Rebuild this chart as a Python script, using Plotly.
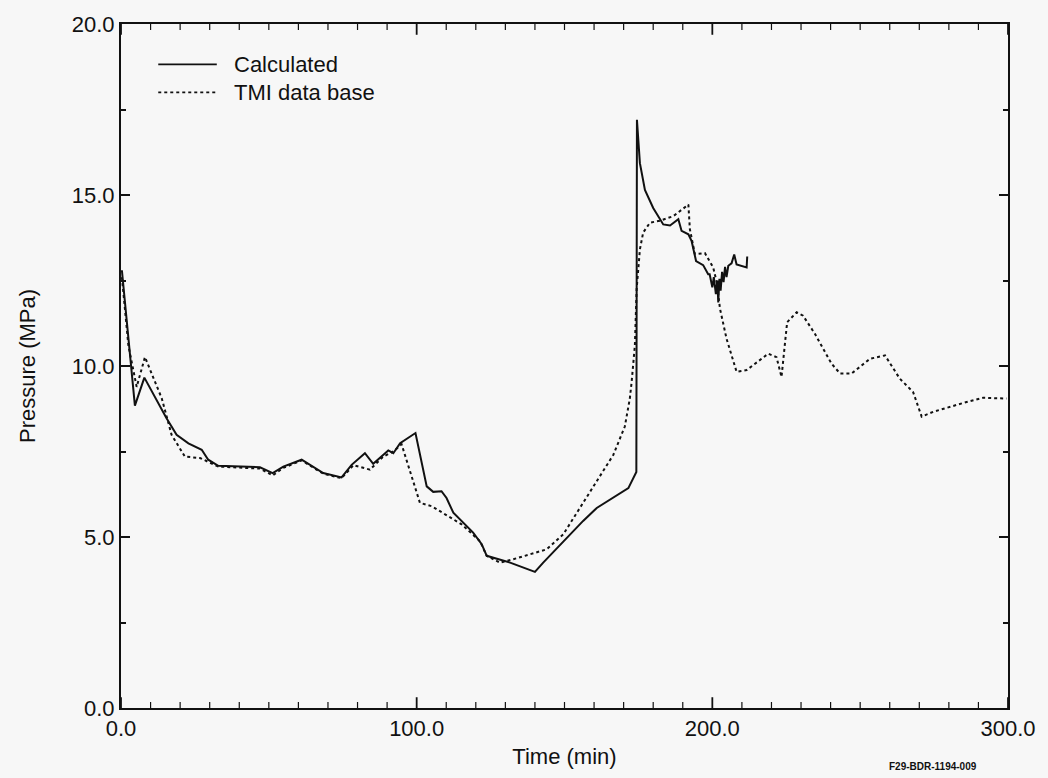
import plotly.graph_objects as go

# Calculated pressure history (min, MPa)
calc_t = [0.3, 4.7, 7.9, 15.4, 18.8, 22.8, 27.3, 29.5, 32.9, 47.0, 51.3, 54.9, 61.1,
          68.4, 74.6, 78.0, 82.5, 85.3, 90.4, 92.1, 94.4, 99.6, 103.4, 105.6, 108.4,
          110.1, 112.4, 119.1, 122.0, 123.7, 131.6, 140.0, 142.8, 153.0, 156.3, 160.9,
          168.2, 171.6, 174.3, 174.5, 175.5, 177.2, 180.0, 183.4, 185.7, 188.5, 189.6,
          191.9, 193.0, 194.5, 196.9, 198.6, 199.1, 200.0, 200.5, 201.2, 201.7, 202.0,
          202.4, 202.8, 203.3, 203.8, 204.3, 204.8, 205.4, 206.5, 207.4, 208.2, 211.6,
          211.8]
calc_p = [12.8, 8.84, 9.66, 8.47, 7.99, 7.74, 7.55, 7.26, 7.08, 7.04, 6.87, 7.06, 7.26,
          6.87, 6.74, 7.11, 7.45, 7.14, 7.53, 7.45, 7.74, 8.04, 6.48, 6.32, 6.34,
          6.14, 5.71, 5.13, 4.79, 4.45, 4.25, 3.98, 4.25, 5.17, 5.47, 5.85,
          6.24, 6.43, 6.9, 17.2, 15.93, 15.15, 14.62, 14.14, 14.11, 14.29, 13.95,
          13.85, 13.65, 13.07, 12.95, 12.68, 12.68, 12.3, 12.6, 12.1, 12.5, 11.86,
          12.55, 12.2, 12.75, 12.45, 12.9, 12.6, 12.93, 13.0, 13.26, 12.97, 12.88,
          13.2]

# TMI data base pressure history (min, MPa)
tmi_t = [0.3, 2.5, 5.3, 8.1, 13.8, 17.1, 21.6, 26.7, 32.9, 47.0, 51.3, 54.9, 61.1,
         68.4, 74.6, 78.6, 84.2, 88.7, 92.1, 94.9, 101.1, 105.1, 115.2, 121.4, 123.7,
         128.2, 132.7, 144.0, 149.6, 155.2, 159.7, 166.5, 170.4, 172.1, 172.7, 173.8,
         174.4, 175.5, 176.6, 178.9, 182.3, 186.8, 191.9, 192.4, 194.1, 197.5, 200.3,
         201.5, 202.6, 204.8, 208.2, 211.6, 218.9, 221.7, 223.4, 225.3, 228.5, 230.7,
         234.7, 240.3, 243.2, 247.1, 253.3, 258.4, 263.4, 267.9, 270.8, 274.7, 284.9,
         291.6, 299.5]
tmi_p = [12.6, 10.6, 9.39, 10.26, 9.05, 7.99, 7.35, 7.31, 7.06, 7.0, 6.8, 7.02, 7.24,
         6.85, 6.72, 7.1, 6.97, 7.35, 7.5, 7.71, 6.0, 5.9, 5.37, 4.88, 4.45,
         4.25, 4.35, 4.64, 5.08, 5.85, 6.43, 7.4, 8.23, 9.05, 9.53, 10.6,
         12.25, 13.41, 13.9, 14.19, 14.25, 14.38, 14.72, 14.0, 13.27, 13.3, 12.88,
         12.44, 11.67, 10.8, 9.83, 9.88, 10.36, 10.26, 9.68, 11.28, 11.57, 11.47,
         10.94, 10.07, 9.78, 9.78, 10.21, 10.31, 9.63, 9.24, 8.52, 8.66, 8.92,
         9.07, 9.05]

series_names = ["Calculated", "TMI data base"]
x_range = [0, 300]
y_range = [0, 20]
x_step, x_minor_step = 100, 10
y_step, y_minor_step = 5, 2.5

INK = "#111111"
BG = "#f7f7f7"
FONT = "Liberation Sans, Arial, Helvetica, sans-serif"

MARGIN = dict(l=121, r=39, t=19, b=70)
FIG_W, FIG_H = 1048, 778
PLOT_H = FIG_H - MARGIN["t"] - MARGIN["b"]   # plot-area height in px
MAJOR_LEN, MINOR_LEN = 9, 5                   # tick lengths in px

fig = go.Figure()
fig.add_trace(go.Scatter(x=calc_t, y=calc_p, mode="lines", name=series_names[0],
                         line=dict(color=INK, width=2), showlegend=False))
fig.add_trace(go.Scatter(x=tmi_t, y=tmi_p, mode="lines", name=series_names[1],
                         line=dict(color=INK, width=2, dash="dot"), showlegend=False))

# Inward time ticks on the bottom and top frame edges, drawn as vertical line
# markers on a hidden pixel-scaled axis so that they start at the frame
major_x = list(range(x_range[0], x_range[1] + 1, x_step))
minor_x = [v for v in range(x_range[0], x_range[1] + 1, x_minor_step) if v % x_step]
for ticks_x, length, width in ((minor_x, MINOR_LEN, 1.2), (major_x, MAJOR_LEN, 1.8)):
    for edge_y in (length / 2, PLOT_H - length / 2):
        fig.add_trace(go.Scatter(
            x=ticks_x, y=[edge_y] * len(ticks_x), xaxis="x", yaxis="y2", mode="markers",
            marker=dict(symbol="line-ns", size=length, color=INK,
                        line=dict(color=INK, width=width)),
            cliponaxis=False, showlegend=False, hoverinfo="skip"))

tick_font = dict(family=FONT, size=22, color=INK)
title_font = dict(family=FONT, size=22, color=INK)

fig.update_layout(
    xaxis=dict(
        range=x_range, tickmode="linear", tick0=0, dtick=x_step, tickformat=".1f",
        showgrid=False, zeroline=False, showline=True, linecolor=INK, linewidth=2,
        mirror=True, ticks="", tickfont=tick_font,
        title=dict(text="Time (min)", font=title_font, standoff=8),
    ),
    yaxis=dict(
        range=y_range, tickmode="linear", tick0=0, dtick=y_step, tickformat=".1f",
        showgrid=False, zeroline=False, showline=True, linecolor=INK, linewidth=2,
        mirror="allticks", ticks="inside", tickcolor=INK, tickwidth=2, ticklen=MAJOR_LEN,
        minor=dict(tickmode="linear", tick0=0, dtick=y_minor_step, ticks="inside",
                   ticklen=MINOR_LEN, tickwidth=1.5, tickcolor=INK, showgrid=False),
        tickfont=tick_font,
        title=dict(text="Pressure (MPa)", font=title_font, standoff=30),
    ),
    yaxis2=dict(range=[0, PLOT_H], overlaying="y", visible=False, fixedrange=True),
)

# Legend drawn as sample lines plus labels in the upper-left corner
legend_rows = [(0.941, "solid"), (0.900, "dot")]
for (yy, dash), name in zip(legend_rows, series_names):
    fig.add_shape(type="line", xref="paper", yref="paper", x0=0.042, x1=0.108, y0=yy, y1=yy,
                  line=dict(color=INK, width=1.8, dash=dash))
    fig.add_annotation(x=0.125, y=yy, xref="paper", yref="paper", text=name, showarrow=False,
                       xanchor="left", yanchor="middle", font=title_font)

fig.add_annotation(x=0.915, y=-0.085, xref="paper", yref="paper", text="<b>F29-BDR-1194-009</b>",
                   showarrow=False, xanchor="center", yanchor="middle",
                   font=dict(family="Liberation Sans Narrow, Liberation Sans, Arial", size=10, color=INK))

fig.update_layout(
    width=FIG_W, height=FIG_H,
    margin=MARGIN,
    paper_bgcolor=BG, plot_bgcolor=BG,
    font=dict(family=FONT, color=INK),
)

fig.write_html("out.html")
